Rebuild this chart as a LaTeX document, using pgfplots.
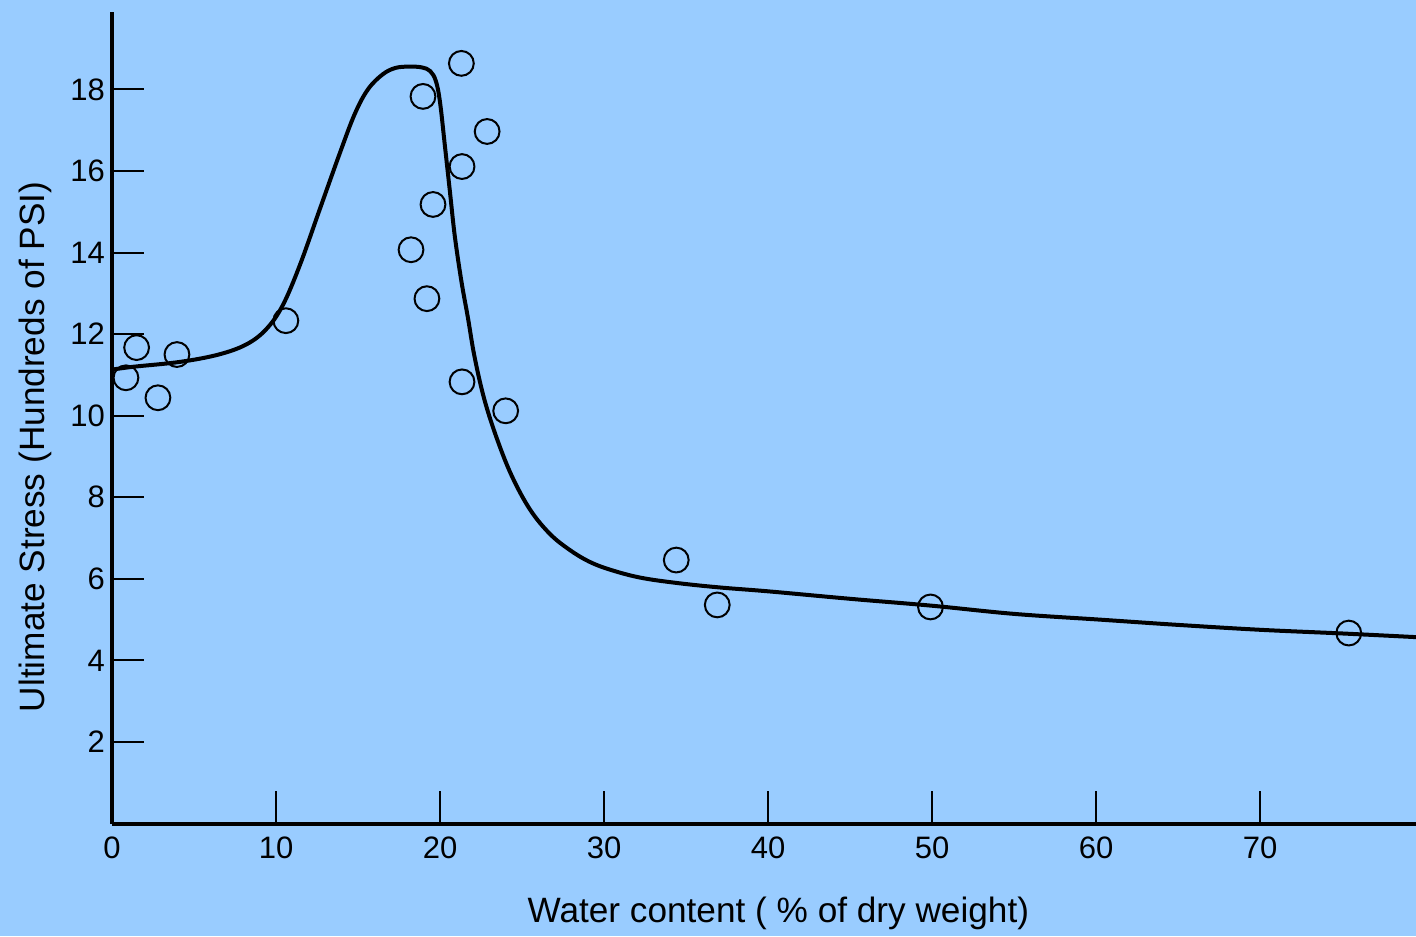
\documentclass[border=0pt]{standalone}
\usepackage{fontspec}
\setmainfont{Liberation Sans}
\usepackage{pgfplots}
\pgfplotsset{compat=1.18}
\definecolor{bgblue}{RGB}{153,204,255}

\begin{document}
\begin{tikzpicture}
\useasboundingbox (0,0) rectangle (708pt,468pt);
\fill[bgblue] (0,0) rectangle (708pt,468pt);
\begin{axis}[
  at={(56pt,56.25pt)}, anchor=south west,
  scale only axis, width=652pt, height=405.75pt,
  xmin=0, xmax=79.5, ymin=0, ymax=19.9,
  axis lines=left, axis line style={-, line width=2pt, black},
  tick align=inside, major tick length=16pt,
  tick style={line width=1pt, black},
  xtick={0,10,...,70}, ytick={2,4,...,18},
  /pgf/number format/assume math mode=true,
  tick label style={font=\fontsize{15.5}{18}\selectfont},
  xticklabel style={yshift=-3pt},
  label style={font=\fontsize{17.6}{20}\selectfont},
  xlabel={Water content ( \% of dry weight)},
  ylabel={Ultimate Stress (Hundreds of PSI)},
  xlabel style={at={(axis description cs:0.511,-0.111)}, anchor=center},
  ylabel style={at={(axis description cs:-0.059,0.464)}, anchor=center},
  clip=true,
]
\addplot[black, line width=2pt, smooth, tension=0.6] coordinates {
  (0,11.13) (1.3,11.2) (4.15,11.32) (6.5,11.5) (8.2,11.75) (9.4,12.12)
  (10.4,12.7) (11.46,13.7) (12.7,15.1) (13.9,16.45) (14.8,17.4) (15.6,18.0)
  (16.5,18.37) (17.3,18.53) (18.17,18.56) (18.9,18.54) (19.4,18.45) (19.75,18.2)
  (20.0,17.68) (20.3,16.6) (20.6,15.5) (20.9,14.4) (21.3,13.3) (21.7,12.4)
  (22.1,11.45) (22.7,10.4) (23.5,9.4) (24.4,8.5) (25.5,7.69) (26.7,7.1)
  (27.9,6.71) (29.1,6.42) (30.4,6.22) (32.2,6.03) (34.4,5.9) (37,5.79)
  (40.1,5.69) (45,5.51) (50.0,5.34) (55,5.14) (60.2,5.0) (65,4.87)
  (70,4.75) (75,4.66) (79.5,4.57)
};
\addplot[only marks, mark=o, mark size=6.2pt, mark options={line width=1pt, black}] coordinates {
  (0.85,10.93) (1.5,11.67) (2.8,10.44) (3.96,11.5) (10.6,12.33)
  (21.3,18.64) (18.96,17.83) (22.87,16.97) (21.34,16.11) (19.57,15.18)
  (18.23,14.07) (19.2,12.87) (21.34,10.83) (24.0,10.12)
  (34.4,6.46) (36.9,5.36) (49.9,5.31) (75.4,4.67)
};
\end{axis}
\end{tikzpicture}
\end{document}
